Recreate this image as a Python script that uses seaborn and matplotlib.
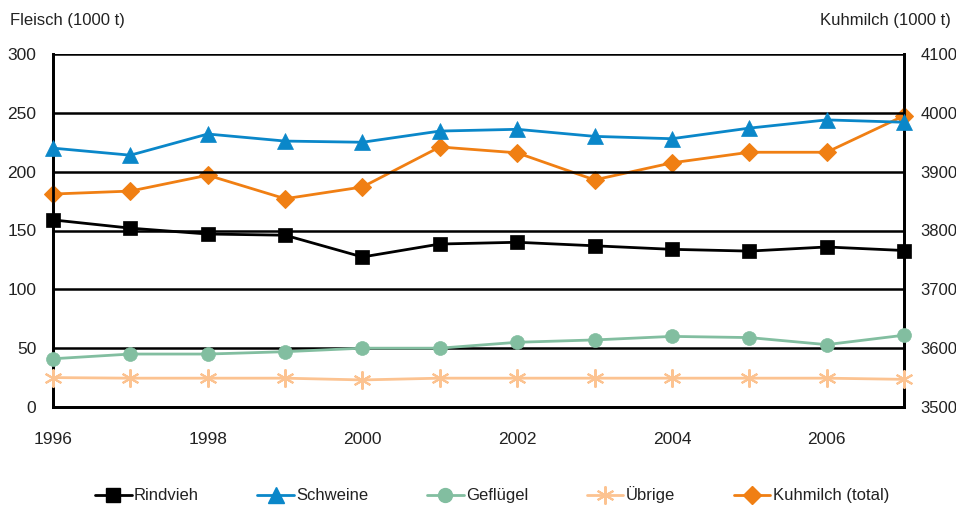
import matplotlib
matplotlib.use("Agg")
import matplotlib.pyplot as plt
import seaborn as sns
import pandas as pd
from matplotlib.lines import Line2D

years = [1996, 1997, 1998, 1999, 2000, 2001, 2002, 2003, 2004, 2005, 2006, 2007]
rindvieh = [159, 152, 147, 146, 127.5, 138.5, 140, 137, 134, 132.5, 136, 133]
schweine = [220, 214, 232, 226, 225, 234.5, 236, 230, 228, 237, 244, 242]
gefluegel = [41, 45, 45, 47, 50, 50, 55, 57, 60, 59, 53, 61]
uebrige = [25, 24.5, 24.5, 24.5, 23, 24.5, 24.5, 24.5, 24.5, 24.5, 24.5, 23.5]
kuhmilch = [3862, 3867, 3894, 3854, 3874, 3942, 3932, 3886, 3915, 3933, 3933, 3995]

sns.set_theme(style="white")
plt.rcParams['font.family'] = ['Liberation Sans Narrow', 'Liberation Sans', 'DejaVu Sans']

fig = plt.figure(figsize=(9.56, 5.08), dpi=100)
ax = fig.add_axes([53/956, 1-407/508, (904-53)/956, (407-54)/508])
ax2 = ax.twinx()

df = pd.DataFrame({"Jahr": years, "Rindvieh": rindvieh, "Schweine": schweine,
                   "Geflügel": gefluegel, "Übrige": uebrige, "Kuhmilch": kuhmilch})

styles = [
    ("Rindvieh", "black", "s", 10, ax),
    ("Schweine", "#0a87c9", "^", 11, ax),
    ("Geflügel", "#82bea0", "o", 10, ax),
    ("Übrige", "#fcc391", (6, 2, 0), 13, ax),
]
for col, c, m, ms, a in styles:
    sns.lineplot(data=df, x="Jahr", y=col, ax=a, color=c, marker=m, markersize=ms,
                 markeredgecolor=c, markeredgewidth=1.5 if m == (6, 2, 0) else 0.5,
                 linewidth=2, legend=False, clip_on=False, zorder=3)
sns.lineplot(data=df, x="Jahr", y="Kuhmilch", ax=ax2, color="#f07f13", marker="D",
             markersize=9, markeredgecolor="#f07f13", linewidth=2, legend=False,
             clip_on=False, zorder=3)

ax.set_xlim(1996, 2007)
ax.set_ylim(0, 300)
ax2.set_ylim(3500, 4100)
ax.set_yticks(range(0, 301, 50))
ax2.set_yticks(range(3500, 4101, 100))
ax.set_xticks([1996, 1998, 2000, 2002, 2004, 2006])
for y in range(50, 301, 50):
    ax.axhline(y, color="black", linewidth=1.8, zorder=1)
ax.set_xlabel("")
ax.set_ylabel("")
ax2.set_ylabel("")
for a in (ax, ax2):
    for s in ("left", "right", "bottom"):
        a.spines[s].set_color("black")
        a.spines[s].set_linewidth(2)
    a.spines["top"].set_visible(False)
    a.tick_params(length=0, labelsize=12.5, colors="#222222")
ax.tick_params(axis="y", pad=12)
ax2.tick_params(axis="y", pad=12, labelsize=12)
ax.tick_params(axis="x", pad=18)
ax.set_zorder(ax2.get_zorder() + 1)
ax.patch.set_visible(False)

fig.text(10/956, 1-20/508, "Fleisch (1000 t)", fontsize=12, color="#222222", va="center", ha="left")
fig.text(951/956, 1-20/508, "Kuhmilch (1000 t)", fontsize=12, color="#222222", va="center", ha="right")

handles = [
    Line2D([], [], color="black", marker="s", markersize=10, linewidth=2),
    Line2D([], [], color="#0a87c9", marker="^", markersize=11, linewidth=2),
    Line2D([], [], color="#82bea0", marker="o", markersize=10, linewidth=2),
    Line2D([], [], color="#fcc391", marker=(6, 2, 0), markersize=13, markeredgewidth=1.5, linewidth=2),
    Line2D([], [], color="#f07f13", marker="D", markersize=9, linewidth=2),
]
labels = ["Rindvieh", "Schweine", "Geflügel", "Übrige", "Kuhmilch (total)"]
fig.legend(handles, labels, loc="center", bbox_to_anchor=(492/956, 1-495/508), ncol=5,
           frameon=False, fontsize=12, handlelength=2.2, handletextpad=0.15, columnspacing=3.5,
           labelcolor="#222222")

fig.savefig("out.png", dpi=100)
